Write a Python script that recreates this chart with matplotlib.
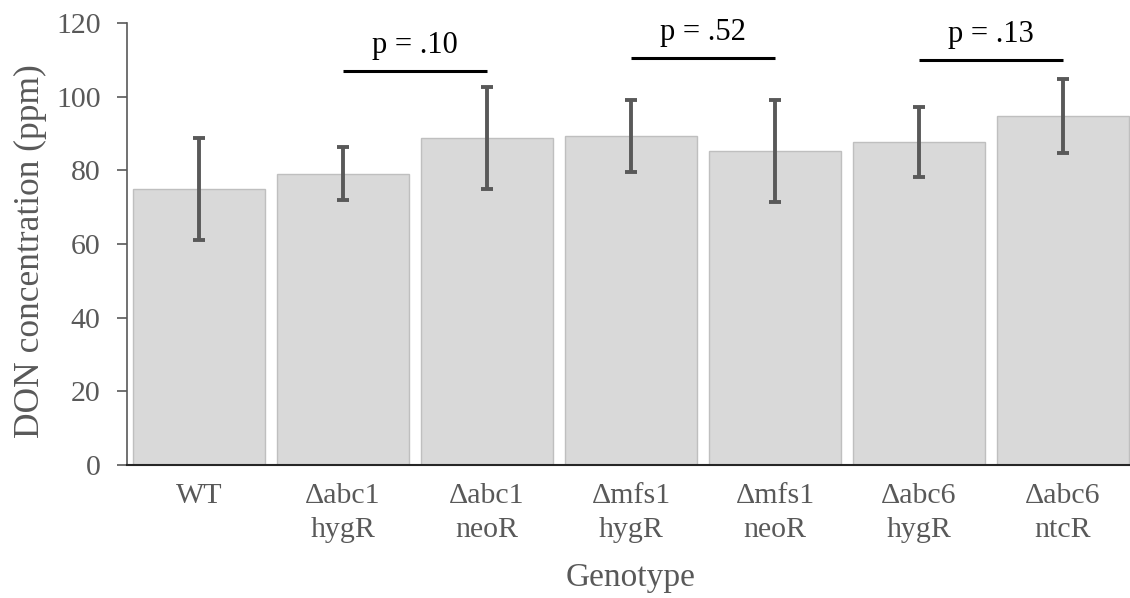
import matplotlib
matplotlib.use("Agg")
import matplotlib.pyplot as plt
import numpy as np

categories = ["WT", "\u0394abc1\nhygR", "\u0394abc1\nneoR", "\u0394mfs1\nhygR",
              "\u0394mfs1\nneoR", "\u0394abc6\nhygR", "\u0394abc6\nntcR"]
means = [74.9, 79.1, 88.8, 89.3, 85.2, 87.6, 94.8]
errors = [13.9, 7.2, 13.8, 9.8, 13.9, 9.5, 10.0]
yticks = [0, 20, 40, 60, 80, 100, 120]

comparisons = [(1, 2, "p = .10", 106.9), (3, 4, "p = .52", 110.4), (5, 6, "p = .13", 109.9)]

plt.rcParams['font.family'] = ['Liberation Serif', 'DejaVu Serif']

fig = plt.figure(figsize=(11.3, 5.98), dpi=100)
ax = fig.add_axes([127/1130, 1-465/598, 1008/1130, (465-23)/598])

x = np.arange(len(categories))
ax.bar(x, means, width=0.913, color="#D9D9D9", edgecolor="#BFBFBF", linewidth=1.0, zorder=2)
ax.errorbar(x, means, yerr=errors, fmt="none", ecolor="#595959", elinewidth=2.8,
            capsize=4.5, capthick=2.8, zorder=3)

for i, j, label, yv in comparisons:
    ax.plot([x[i], x[j]], [yv, yv], color="black", lw=2.2, solid_capstyle="butt", clip_on=False)
    ax.text((x[i] + x[j]) / 2, yv + 3.0, label, ha="center", va="bottom", fontsize=22, color="black")

ax.set_xlim(-0.5, len(categories) - 0.5)
ax.set_ylim(0, 120)
ax.set_yticks(yticks)
ax.set_xticks(x)
ax.set_xticklabels(categories, fontsize=21.5, color="#595959", linespacing=1.42)
ax.tick_params(axis="y", labelsize=21.5, labelcolor="#595959", length=7, width=1.2,
               color="#595959", direction="out", pad=12)
ax.tick_params(axis="x", length=0, pad=13)

for s in ["top", "right"]:
    ax.spines[s].set_visible(False)
ax.spines["left"].set_color("#595959")
ax.spines["left"].set_linewidth(1.2)
ax.spines["bottom"].set_color("#262626")
ax.spines["bottom"].set_linewidth(1.5)

ax.set_ylabel("DON concentration (ppm)", fontsize=25.5, color="#595959")
ax.yaxis.set_label_coords(-80/1008, 0.485)
ax.set_xlabel("Genotype", fontsize=24, color="#595959", labelpad=14)

fig.savefig("out.png", dpi=100)
